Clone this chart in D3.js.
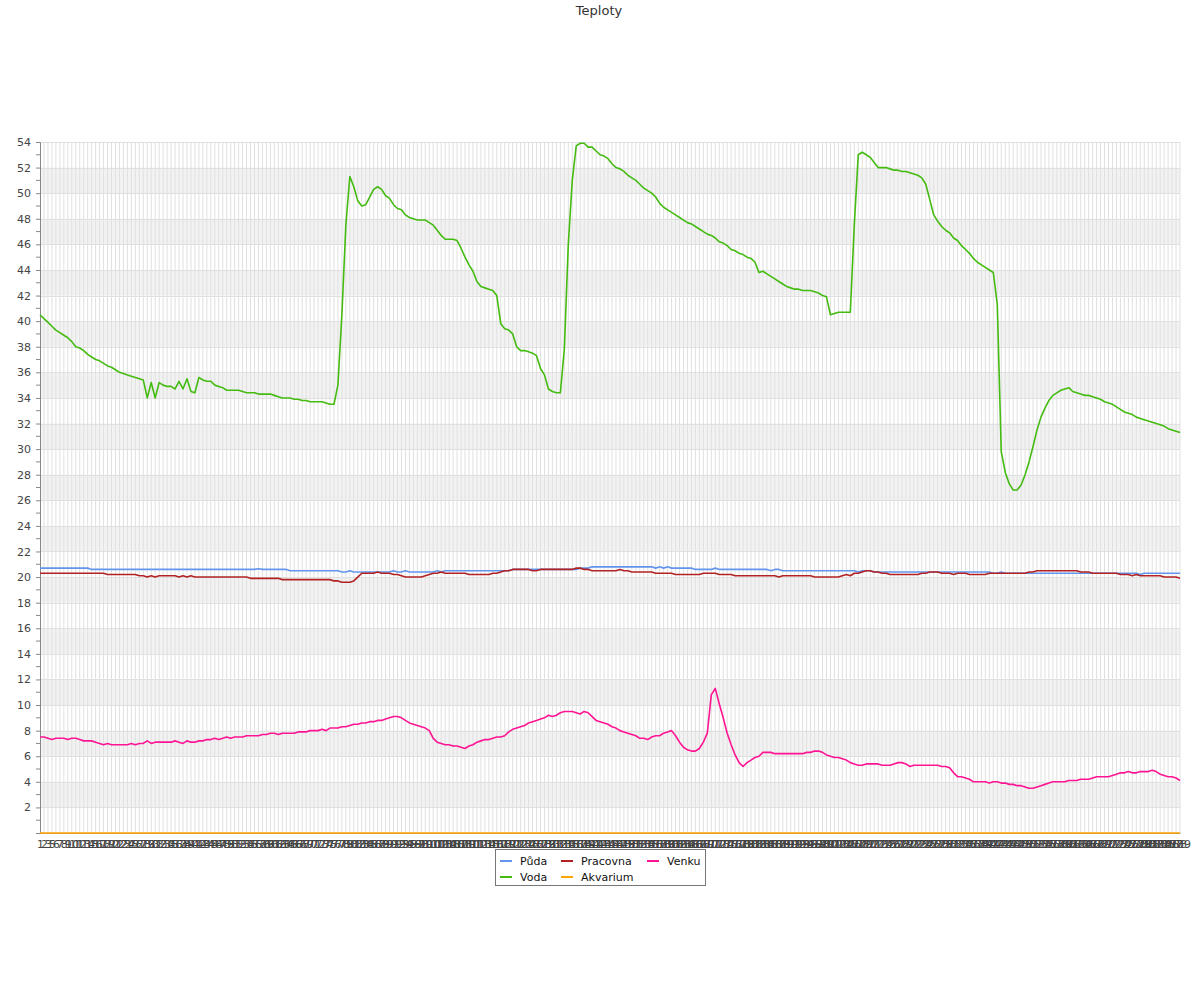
<!DOCTYPE html>
<html><head><meta charset="utf-8">
<script src="https://cdn.jsdelivr.net/npm/d3@7/dist/d3.min.js"></script>
<style>body{margin:0;background:#fff;font-family:"DejaVu Sans",sans-serif;}</style>
</head><body>
<svg id="chart" width="1200" height="1000"></svg>
<script>
const title = "Teploty";
const labels = [1,2,3,5,6,7,8,9,10,11,12,13,14,15,16,17,18,19,20,21,22,23,24,25,26,27,28,29,30,31,32,33,34,35,36,37,38,39,40,41,42,43,44,45,46,47,48,49,50,51,52,53,54,55,56,57,58,59,60,61,62,63,64,65,66,67,68,69,70,71,72,73,74,75,76,77,78,79,80,81,82,83,84,85,86,87,88,89,90,91,92,93,94,95,96,97,98,99,100,101,102,103,104,105,106,107,108,109,110,111,112,113,114,115,116,117,118,119,120,121,122,123,124,125,126,127,128,129,130,131,132,133,134,135,136,137,138,139,140,141,142,143,144,145,146,147,148,149,150,151,152,153,154,155,156,157,158,159,160,161,162,163,164,165,166,167,168,169,170,171,172,173,174,175,176,177,178,179,180,181,182,183,184,185,186,187,188,189,190,191,192,193,194,195,196,197,198,199,200,201,202,203,204,205,206,207,208,209,210,211,212,213,214,215,216,217,218,219,220,221,222,223,224,225,226,227,228,229,230,231,232,233,234,235,236,237,238,239,240,241,242,243,244,245,246,247,248,249,250,251,252,253,254,255,256,257,258,259,260,261,262,263,264,265,266,267,268,269,270,271,272,273,274,275,276,277,278,279,280,281,282,283,284,285,286,287,288,289].map(String);

const yTicks = [2,4,6,8,10,12,14,16,18,20,22,24,26,28,30,32,34,36,38,40,42,44,46,48,50,52,54];

const puda = [
20.7,20.7,20.7,20.7,20.7,20.7,20.7,20.7,20.7,20.7,
20.7,20.7,20.7,20.6,20.6,20.6,20.6,20.6,20.6,20.6,
20.6,20.6,20.6,20.6,20.6,20.6,20.6,20.6,20.6,20.6,
20.6,20.6,20.6,20.6,20.6,20.6,20.6,20.6,20.6,20.6,
20.6,20.6,20.6,20.6,20.6,20.6,20.6,20.6,20.6,20.6,
20.6,20.6,20.6,20.6,20.6,20.65,20.6,20.6,20.6,20.6,
20.6,20.6,20.6,20.5,20.5,20.5,20.5,20.5,20.5,20.5,
20.5,20.5,20.5,20.5,20.5,20.5,20.4,20.4,20.5,20.4,
20.4,20.4,20.4,20.4,20.4,20.4,20.4,20.4,20.4,20.5,
20.4,20.4,20.5,20.4,20.4,20.4,20.4,20.4,20.4,20.4,
20.5,20.4,20.5,20.5,20.5,20.5,20.5,20.5,20.5,20.5,
20.5,20.5,20.5,20.5,20.5,20.5,20.5,20.5,20.5,20.6,
20.6,20.6,20.6,20.6,20.6,20.6,20.6,20.6,20.6,20.6,
20.6,20.6,20.6,20.6,20.6,20.6,20.7,20.7,20.7,20.8,
20.8,20.8,20.8,20.8,20.8,20.8,20.8,20.8,20.8,20.8,
20.8,20.8,20.8,20.8,20.8,20.7,20.8,20.7,20.8,20.7,
20.7,20.7,20.7,20.7,20.7,20.6,20.6,20.6,20.6,20.6,
20.7,20.6,20.6,20.6,20.6,20.6,20.6,20.6,20.6,20.6,
20.6,20.6,20.6,20.6,20.5,20.6,20.6,20.5,20.5,20.5,
20.5,20.5,20.5,20.5,20.5,20.5,20.5,20.5,20.5,20.5,
20.5,20.5,20.5,20.5,20.5,20.5,20.4,20.5,20.5,20.5,
20.4,20.4,20.4,20.4,20.4,20.4,20.4,20.4,20.4,20.4,
20.4,20.4,20.4,20.4,20.4,20.4,20.4,20.4,20.4,20.4,
20.4,20.4,20.4,20.4,20.4,20.4,20.4,20.4,20.4,20.4,
20.3,20.3,20.4,20.3,20.3,20.3,20.3,20.3,20.3,20.3,
20.3,20.3,20.3,20.3,20.3,20.3,20.3,20.3,20.3,20.3,
20.3,20.3,20.3,20.3,20.3,20.3,20.3,20.3,20.3,20.3,
20.3,20.3,20.3,20.3,20.3,20.3,20.3,20.2,20.3,20.3,
20.3,20.3,20.3,20.3,20.3,20.3,20.3,20.3];

const voda = [
40.5,40.2,39.9,39.6,39.3,39.1,38.9,38.7,38.4,38.0,
37.9,37.7,37.4,37.2,37.0,36.9,36.7,36.5,36.4,36.2,
36.0,35.9,35.8,35.7,35.6,35.5,35.4,34.0,35.2,34.0,
35.2,35.0,34.9,34.9,34.7,35.3,34.7,35.5,34.5,34.4,
35.6,35.4,35.3,35.3,35.0,34.9,34.8,34.6,34.6,34.6,
34.6,34.5,34.4,34.4,34.4,34.3,34.3,34.3,34.3,34.2,
34.1,34.0,34.0,34.0,33.9,33.9,33.8,33.8,33.7,33.7,
33.7,33.7,33.6,33.5,33.5,35.0,40.5,47.5,51.3,50.5,
49.4,49.0,49.1,49.7,50.3,50.5,50.3,49.8,49.6,49.1,
48.8,48.7,48.3,48.1,48.0,47.9,47.9,47.9,47.7,47.5,
47.1,46.7,46.4,46.4,46.4,46.3,45.7,45.0,44.4,43.9,
43.1,42.7,42.6,42.5,42.4,42.0,39.8,39.4,39.3,39.0,
38.0,37.7,37.7,37.6,37.5,37.3,36.3,35.8,34.7,34.5,
34.4,34.4,37.8,46.0,51.0,53.7,53.9,53.9,53.6,53.6,
53.3,53.0,52.9,52.7,52.3,52.0,51.9,51.7,51.4,51.2,
51.0,50.7,50.4,50.2,50.0,49.7,49.2,48.9,48.7,48.5,
48.3,48.1,47.9,47.7,47.6,47.4,47.2,47.0,46.8,46.7,
46.5,46.2,46.1,45.9,45.6,45.5,45.3,45.2,45.0,44.9,
44.6,43.8,43.9,43.7,43.5,43.3,43.1,42.9,42.7,42.6,
42.5,42.5,42.4,42.4,42.4,42.3,42.2,42.0,41.9,40.5,
40.6,40.7,40.7,40.7,40.7,47.5,53.0,53.2,53.0,52.8,
52.4,52.0,52.0,52.0,51.9,51.8,51.8,51.7,51.7,51.6,
51.5,51.4,51.2,50.7,49.5,48.3,47.8,47.4,47.1,46.9,
46.5,46.3,45.9,45.6,45.3,44.9,44.6,44.4,44.2,44.0,
43.8,41.3,29.8,28.2,27.3,26.8,26.8,27.2,28.0,29.0,
30.2,31.5,32.5,33.2,33.8,34.2,34.4,34.6,34.7,34.8,
34.5,34.4,34.3,34.2,34.2,34.1,34.0,33.9,33.7,33.6,
33.5,33.3,33.1,32.9,32.8,32.7,32.5,32.4,32.3,32.2,
32.1,32.0,31.9,31.8,31.6,31.5,31.4,31.3];

const pracovna = [
20.3,20.3,20.3,20.3,20.3,20.3,20.3,20.3,20.3,20.3,
20.3,20.3,20.3,20.3,20.3,20.3,20.3,20.2,20.2,20.2,
20.2,20.2,20.2,20.2,20.2,20.1,20.1,20.0,20.1,20.0,
20.1,20.1,20.1,20.1,20.1,20.0,20.1,20.0,20.1,20.0,
20.0,20.0,20.0,20.0,20.0,20.0,20.0,20.0,20.0,20.0,
20.0,20.0,20.0,19.9,19.9,19.9,19.9,19.9,19.9,19.9,
19.9,19.8,19.8,19.8,19.8,19.8,19.8,19.8,19.8,19.8,
19.8,19.8,19.8,19.8,19.7,19.7,19.6,19.6,19.6,19.7,
20.0,20.3,20.3,20.3,20.3,20.4,20.3,20.3,20.3,20.2,
20.2,20.1,20.0,20.0,20.0,20.0,20.0,20.1,20.2,20.3,
20.3,20.4,20.3,20.3,20.3,20.3,20.3,20.3,20.2,20.2,
20.2,20.2,20.2,20.2,20.3,20.3,20.4,20.5,20.5,20.6,
20.6,20.6,20.6,20.6,20.5,20.5,20.6,20.6,20.6,20.6,
20.6,20.6,20.6,20.6,20.6,20.7,20.7,20.6,20.6,20.5,
20.5,20.5,20.5,20.5,20.5,20.5,20.6,20.5,20.5,20.4,
20.4,20.4,20.4,20.4,20.4,20.3,20.3,20.3,20.3,20.3,
20.2,20.2,20.2,20.2,20.2,20.2,20.2,20.3,20.3,20.3,
20.3,20.2,20.2,20.2,20.2,20.1,20.1,20.1,20.1,20.1,
20.1,20.1,20.1,20.1,20.1,20.1,20.0,20.1,20.1,20.1,
20.1,20.1,20.1,20.1,20.1,20.0,20.0,20.0,20.0,20.0,
20.0,20.0,20.1,20.2,20.1,20.3,20.3,20.4,20.5,20.5,
20.4,20.4,20.3,20.3,20.2,20.2,20.2,20.2,20.2,20.2,
20.2,20.2,20.3,20.3,20.4,20.4,20.4,20.3,20.3,20.3,
20.2,20.3,20.3,20.3,20.2,20.2,20.2,20.2,20.2,20.3,
20.3,20.3,20.3,20.3,20.3,20.3,20.3,20.3,20.3,20.4,
20.4,20.5,20.5,20.5,20.5,20.5,20.5,20.5,20.5,20.5,
20.5,20.5,20.4,20.4,20.4,20.3,20.3,20.3,20.3,20.3,
20.3,20.3,20.2,20.2,20.2,20.1,20.2,20.1,20.1,20.1,
20.1,20.1,20.1,20.0,20.0,20.0,20.0,19.9];

const akvarium = [
0,0,0,0,0,0,0,0,0,0, 0,0,0,0,0,0,0,0,0,0, 0,0,0,0,0,0,0,0,0,0, 0,0,0,0,0,0,0,0,0,0,
0,0,0,0,0,0,0,0,0,0, 0,0,0,0,0,0,0,0,0,0, 0,0,0,0,0,0,0,0,0,0, 0,0,0,0,0,0,0,0,0,0,
0,0,0,0,0,0,0,0,0,0, 0,0,0,0,0,0,0,0,0,0, 0,0,0,0,0,0,0,0,0,0, 0,0,0,0,0,0,0,0,0,0,
0,0,0,0,0,0,0,0,0,0, 0,0,0,0,0,0,0,0,0,0, 0,0,0,0,0,0,0,0,0,0, 0,0,0,0,0,0,0,0,0,0,
0,0,0,0,0,0,0,0,0,0, 0,0,0,0,0,0,0,0,0,0, 0,0,0,0,0,0,0,0,0,0, 0,0,0,0,0,0,0,0,0,0,
0,0,0,0,0,0,0,0,0,0, 0,0,0,0,0,0,0,0,0,0, 0,0,0,0,0,0,0,0,0,0, 0,0,0,0,0,0,0,0,0,0,
0,0,0,0,0,0,0,0,0,0, 0,0,0,0,0,0,0,0,0,0, 0,0,0,0,0,0,0,0,0,0, 0,0,0,0,0,0,0,0,0,0,
0,0,0,0,0,0,0,0];

const venku = [
7.5,7.5,7.4,7.3,7.4,7.4,7.4,7.3,7.4,7.4,
7.3,7.2,7.2,7.2,7.1,7.0,6.9,7.0,6.9,6.9,
6.9,6.9,6.9,7.0,6.9,7.0,7.0,7.2,7.0,7.1,
7.1,7.1,7.1,7.1,7.2,7.1,7.0,7.2,7.1,7.1,
7.2,7.2,7.3,7.3,7.4,7.3,7.4,7.5,7.4,7.5,
7.5,7.5,7.6,7.6,7.6,7.6,7.7,7.7,7.8,7.8,
7.7,7.8,7.8,7.8,7.8,7.9,7.9,7.9,8.0,8.0,
8.0,8.1,8.0,8.2,8.2,8.2,8.3,8.3,8.4,8.5,
8.5,8.6,8.6,8.7,8.7,8.8,8.8,8.9,9.0,9.1,
9.1,9.0,8.8,8.6,8.5,8.4,8.3,8.2,8.0,7.4,
7.1,7.0,6.9,6.9,6.8,6.8,6.7,6.6,6.8,6.9,
7.1,7.2,7.3,7.3,7.4,7.5,7.5,7.6,7.9,8.1,
8.2,8.3,8.4,8.6,8.7,8.8,8.9,9.0,9.2,9.1,
9.2,9.4,9.5,9.5,9.5,9.4,9.3,9.5,9.4,9.1,
8.8,8.7,8.6,8.5,8.3,8.2,8.0,7.9,7.8,7.7,
7.6,7.4,7.4,7.3,7.5,7.6,7.6,7.8,7.9,8.0,
7.6,7.1,6.7,6.5,6.4,6.4,6.6,7.1,7.8,10.8,
11.3,10.1,9.0,7.8,6.9,6.1,5.5,5.2,5.5,5.7,
5.9,6.0,6.3,6.3,6.3,6.2,6.2,6.2,6.2,6.2,
6.2,6.2,6.2,6.3,6.3,6.4,6.4,6.3,6.1,6.0,
5.9,5.9,5.8,5.7,5.5,5.4,5.3,5.3,5.4,5.4,
5.4,5.4,5.3,5.3,5.3,5.4,5.5,5.5,5.4,5.2,
5.3,5.3,5.3,5.3,5.3,5.3,5.3,5.2,5.2,5.1,
4.7,4.4,4.4,4.3,4.2,4.0,4.0,4.0,4.0,3.9,
4.0,4.0,3.9,3.9,3.8,3.8,3.7,3.7,3.6,3.5,
3.5,3.6,3.7,3.8,3.9,4.0,4.0,4.0,4.0,4.1,
4.1,4.1,4.2,4.2,4.2,4.3,4.4,4.4,4.4,4.4,
4.5,4.6,4.7,4.7,4.8,4.7,4.7,4.8,4.8,4.8,
4.9,4.8,4.6,4.5,4.4,4.4,4.3,4.1];

const seriesNames = ["Půda","Voda","Pracovna","Akvarium","Venku"];
const seriesColors = ["#6495ed","#44bb11","#b22222","#ffa500","#ff1493"];
const seriesData = [puda, voda, pracovna, akvarium, venku];

const svg = d3.select("#chart");
const m = {left:40, right:20, top:142, bottom:167};
const W = 1200, H = 1000;
const x = d3.scalePoint().domain(labels).range([m.left, W - m.right]);
const y = d3.scaleLinear().domain([0,54]).range([H - m.bottom, m.top]);

// title
svg.append("text").attr("x",599).attr("y",15).attr("text-anchor","middle")
  .attr("font-size","13px").attr("fill","#333").attr("font-family","DejaVu Sans").text(title);

// alternating bands
const bandStarts = yTicks.filter(v => (v/2)%2===1 && v < 54);
svg.append("g").selectAll("rect").data(bandStarts).join("rect")
  .attr("x", m.left).attr("width", W - m.right - m.left)
  .attr("y", d => y(d+2)).attr("height", d => y(d) - y(d+2))
  .attr("fill","#f2f2f2");

// horizontal grid
svg.append("g").selectAll("line").data(yTicks).join("line")
  .attr("x1", m.left).attr("x2", W - m.right)
  .attr("y1", d => Math.round(y(d))+0.5).attr("y2", d => Math.round(y(d))+0.5)
  .attr("stroke","#e0e0e0").attr("stroke-width",1);

// vertical grid
svg.append("g").selectAll("line").data(labels.slice(1)).join("line")
  .attr("x1", d => x(d)).attr("x2", d => x(d))
  .attr("y1", y(54)).attr("y2", y(0))
  .attr("stroke","#e0e0e0").attr("stroke-width",1);

// y axis
const yAxis = d3.axisLeft(y).tickValues(yTicks).tickSize(4).tickPadding(5).tickFormat(d3.format("d"));
const gy = svg.append("g").attr("transform",`translate(${m.left},0)`).call(yAxis);
gy.select(".domain").attr("stroke","#888");
gy.selectAll(".tick line").attr("stroke","#888");
gy.selectAll(".tick text").attr("font-size","11px").attr("fill","#444").attr("font-family","DejaVu Sans");
// minor ticks
const minor = d3.range(1,54,2);
svg.append("g").selectAll("line").data(minor).join("line")
  .attr("x1", m.left-4).attr("x2", m.left)
  .attr("y1", d => y(d)).attr("y2", d => y(d))
  .attr("stroke","#888");

// x axis labels
const xAxis = d3.axisBottom(x).tickSize(0).tickPadding(7);
const gx = svg.append("g").attr("transform",`translate(0,${y(0)})`).call(xAxis);
gx.select(".domain").attr("stroke","#888");
gx.selectAll(".tick text").attr("font-size","11px").attr("fill","#444").attr("font-family","DejaVu Sans");

// lines
const line = d3.line().x((d,i) => x(labels[i])).y(d => y(d));
svg.append("g").selectAll("path").data(seriesData).join("path")
  .attr("d", d => line(d)).attr("fill","none")
  .attr("stroke", (d,i) => seriesColors[i]).attr("stroke-width",1.6)
  .attr("stroke-linejoin","round");

// legend
const lg = svg.append("g");
lg.append("rect").attr("x",495.5).attr("y",849.5).attr("width",210).attr("height",36)
  .attr("fill","#fff").attr("stroke","#777");
const legendPos = [[500,861],[500,877],[561,861],[561,877],[647,861]];
seriesNames.forEach((n,i) => {
  const [lx,ly] = legendPos[i];
  lg.append("line").attr("x1",lx).attr("x2",lx+12).attr("y1",ly).attr("y2",ly)
    .attr("stroke",seriesColors[i]).attr("stroke-width",2);
  lg.append("text").attr("x",lx+20).attr("y",ly+4).attr("font-size","11px")
    .attr("fill","#111").attr("font-family","DejaVu Sans").text(n);
});
</script>
</body></html>
